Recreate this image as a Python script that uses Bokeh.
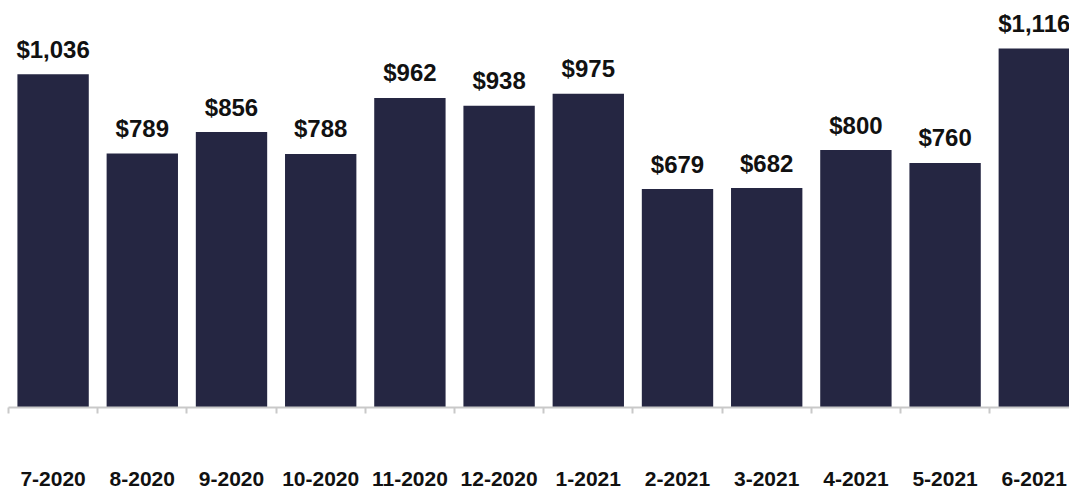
from bokeh.plotting import figure
from bokeh.models import ColumnDataSource, Range1d, FixedTicker
from bokeh.core.properties import value
from bokeh.embed import file_html
from bokeh.resources import INLINE

months = ["7-2020", "8-2020", "9-2020", "10-2020", "11-2020", "12-2020",
          "1-2021", "2-2021", "3-2021", "4-2021", "5-2021", "6-2021"]
amounts = [1036, 789, 856, 788, 962, 938, 975, 679, 682, 800, 760, 1116]
amount_labels = ["${:,}".format(v) for v in amounts]

idx = list(range(len(months)))
src = ColumnDataSource(dict(x=idx, top=amounts, lab=amount_labels))

CAT_PX = 89.2
FRAME_W = 1061
p = figure(frame_width=FRAME_W, frame_height=399, output_backend="svg",
           toolbar_location=None,
           x_range=Range1d(-0.5, -0.5 + FRAME_W / CAT_PX),
           y_range=Range1d(0, 1240),
           min_border_left=8, min_border_right=0, min_border_top=8,
           min_border_bottom=65)
p.outline_line_color = None
p.grid.visible = False
p.yaxis.visible = False
p.background_fill_color = "white"
p.border_fill_color = "white"

p.vbar(x="x", top="top", width=0.8, source=src, fill_color="#252642",
       line_color=None)
p.text(x="x", y="top", text="lab", source=src, text_align="center",
       text_baseline="alphabetic", y_offset=-25,
       text_font=value("Liberation Sans"), text_font_style="bold",
       text_font_size="24px", text_color="#111111")

ax = p.xaxis[0]
ax.ticker = FixedTicker(ticks=idx, minor_ticks=[i - 0.5 for i in range(len(months) + 1)])
ax.major_label_overrides = {i: m for i, m in enumerate(months)}
ax.major_tick_out = 0
ax.major_tick_in = 0
ax.minor_tick_out = 6
ax.minor_tick_in = 0
ax.minor_tick_line_color = "#c9c9c9"
ax.minor_tick_line_width = 2
ax.axis_line_color = "#c9c9c9"
ax.axis_line_width = 2
ax.major_label_standoff = 58
ax.major_label_text_font = "Liberation Sans"
ax.major_label_text_font_style = "bold"
ax.major_label_text_font_size = "21px"
ax.major_label_text_color = "#111111"

open("out.html", "w").write(file_html(p, INLINE))
